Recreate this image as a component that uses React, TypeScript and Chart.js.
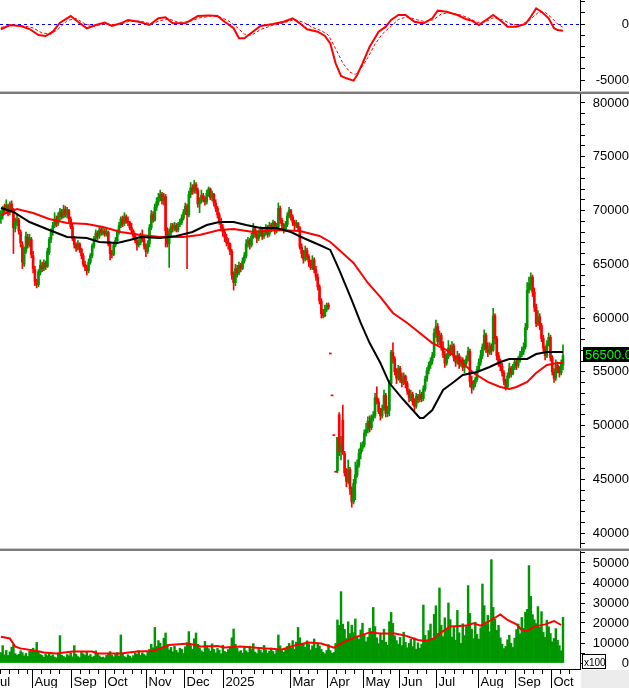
import React, { useEffect, useRef } from 'react';
import { Chart, registerables } from 'chart.js';

Chart.register(...registerables);

const FONT = "'Liberation Sans', Arial, sans-serif";
const GREEN = '#009600';
const RED = '#ff0000';
const X_MIN = -0.5;
const X_MAX = 323.5;
const AXIS_W = 49;

// ---- price candles (VND) ----
const opens = [
  69200, 69500, 70300, 70000, 70400, 69900, 70600, 70000, 68300, 68900,
  69100, 68000, 66800, 65000, 66200, 67500, 66800, 67300, 65800, 64500,
  63300, 63100, 64200, 64900, 64600, 65100, 64800, 66100, 67300, 68000,
  68600, 69200, 68800, 69400, 69900, 69400, 70100, 69600, 70000, 69200,
  68500, 67400, 66800, 66500, 66900, 66400, 65800, 65000, 64700, 64400,
  65200, 65800, 66700, 67400, 67900, 67600, 68200, 67900, 68100, 67800,
  68000, 66900, 66000, 65900, 66800, 67200, 68000, 68600, 69200, 68800,
  69400, 69000, 68900, 68400, 68100, 67600, 67200, 66800, 67000, 67600,
  67300, 66700, 66200, 66900, 68400, 69600, 69100, 70300, 70800, 71200,
  71500, 70900, 71300, 68100, 66900, 67900, 68500, 68300, 68600, 68200,
  68700, 68900, 69300, 69800, 70400, 69600, 71500, 72100, 71800, 72400,
  71900, 70600, 70900, 71400, 71100, 70800, 71600, 72000, 71200, 71500,
  70700, 70200, 69600, 69000, 68400, 68000, 67500, 67000, 66900, 66200,
  64000, 63300, 64600, 64200, 64900, 64600, 65300, 65800, 66900, 67200,
  66800, 67600, 68300, 67800, 67400, 67900, 68200, 67600, 67900, 68400,
  67800, 68600, 68300, 68900, 68100, 68500, 70200, 69100, 68600, 68300,
  68700, 69500, 70000, 69400, 68900, 68600, 68800, 68400, 66600, 66000,
  65500, 66300, 65700, 65200, 64700, 65400, 64500, 63800, 62900, 61600,
  60400, 60200, 60800, 61200, 56700, 52800, 49100, 45700, 45800, 51000,
  47600, 50500, 47400, 45600, 44800, 45900, 44100, 42900, 44600, 45400,
  46300, 47400, 47900, 48200, 49300, 49600, 50400, 49800, 50700, 50900,
  52600, 52200, 51300, 50900, 51600, 52800, 51100, 51400, 53900, 56800,
  56200, 55000, 54400, 55300, 54300, 54000, 54600, 53900, 53200, 52600,
  52900, 52200, 51800, 52700, 52400, 52900, 52500, 53400, 54300, 55100,
  55600, 56000, 56500, 58600, 59200, 57800, 58400, 57300, 56600, 55800,
  56400, 57200, 56800, 57400, 56300, 55900, 56500, 55700, 56100, 55400,
  55800, 56200, 56900, 54100, 53500, 53900, 54300, 55200, 55900, 56500,
  57300, 58400, 57100, 56800, 57400, 57000, 60200, 58100, 56500, 55900,
  55500, 54900, 54100, 53600, 54600, 55300, 54800, 55400, 55900, 55600,
  56100, 56600, 56900, 57300, 59100, 62600, 63200, 63800, 62400, 61000,
  59500, 60100, 59300, 58100, 57200, 56500, 57600, 58200, 56300, 55000,
  54400, 55600, 55300, 54900, 55600,
];

const highs = [
  70000, 70400, 70600, 71000, 70600, 70800, 70900, 70200, 69300, 69600,
  69300, 68200, 67100, 66600, 68000, 67800, 67800, 67500, 66200, 64800,
  63600, 64500, 65400, 65200, 65400, 65300, 66500, 67500, 68300, 68900,
  69800, 69500, 69800, 70200, 70100, 70500, 70400, 70300, 70100, 69400,
  68800, 67600, 67000, 67200, 67000, 66500, 66000, 65300, 64900, 65500,
  66000, 66900, 67600, 68200, 68100, 68500, 68400, 68400, 68300, 68300,
  68100, 67100, 66300, 67000, 67500, 68200, 68900, 69400, 69500, 69800,
  69600, 69400, 69000, 68800, 68200, 67900, 67400, 67300, 67900, 68200,
  67500, 66900, 67200, 68700, 70000, 69900, 70600, 71200, 71600, 71900,
  71700, 71600, 71500, 68400, 68300, 68800, 68800, 68900, 68800, 68900,
  69200, 69600, 70100, 70700, 70600, 71800, 72600, 72400, 72800, 72600,
  72100, 71200, 71900, 71600, 71300, 71900, 72200, 72100, 71800, 71600,
  71000, 70400, 69800, 69300, 68700, 68200, 67800, 67400, 67000, 66400,
  64300, 65000, 64900, 65200, 65100, 65600, 66100, 67300, 67500, 67400,
  67900, 68800, 68500, 68100, 68200, 68500, 68300, 68200, 68700, 68600,
  68900, 68800, 69100, 69000, 68800, 70700, 70400, 69300, 68800, 69000,
  69800, 70300, 70100, 69600, 69100, 69100, 68900, 68500, 66900, 66300,
  66700, 66500, 65900, 65400, 65800, 65600, 64800, 64100, 63100, 61800,
  60800, 61200, 61400, 61400, 56700, 52800, 49100, 45700, 48900, 51200,
  49000, 51900, 47600, 46000, 46800, 46100, 44300, 45000, 46600, 46800,
  47800, 48400, 48500, 49600, 50200, 50800, 50900, 51000, 51300, 53000,
  53600, 52500, 51600, 51900, 53300, 53000, 51800, 54200, 57000, 57700,
  56400, 55300, 55600, 55500, 54900, 54900, 54700, 54100, 53400, 53300,
  53100, 52500, 53000, 52900, 53300, 53100, 53700, 54600, 55400, 55900,
  56300, 56800, 59000, 59800, 59500, 58800, 58600, 57800, 56900, 56700,
  57900, 57500, 57800, 57600, 56500, 56900, 56700, 56400, 56300, 56100,
  56500, 57300, 57100, 54600, 54200, 54500, 55500, 56200, 57000, 57600,
  58900, 58600, 57700, 57700, 57600, 60900, 60400, 58300, 56800, 56200,
  55800, 55100, 54300, 54900, 55800, 55500, 55700, 56200, 56100, 56400,
  56900, 57300, 57700, 59500, 63300, 63800, 64200, 64000, 62800, 61300,
  60700, 60400, 59500, 58400, 57400, 57900, 58600, 58400, 56500, 55300,
  56100, 55900, 55500, 56100, 57500,
];

const lows = [
  68800, 69200, 69700, 69800, 69500, 69600, 69900, 66000, 68000, 68600,
  67800, 66600, 64600, 64800, 66000, 66500, 66600, 65600, 64200, 63000,
  62800, 62900, 64000, 64300, 64400, 64500, 64700, 65900, 67000, 67700,
  68400, 68500, 68600, 69100, 69200, 69300, 69400, 69300, 68900, 68300,
  67200, 66500, 66200, 66300, 66100, 65500, 64800, 64400, 64000, 64200,
  65000, 65600, 66500, 67200, 67300, 67400, 67700, 67700, 67600, 67600,
  66700, 65400, 65600, 65800, 66600, 67000, 67800, 68400, 68500, 68600,
  68800, 68600, 68200, 67900, 67400, 67000, 66300, 66600, 66800, 67100,
  66400, 65700, 66000, 66600, 68200, 68900, 69000, 70000, 70500, 70900,
  70600, 70500, 66600, 66600, 64700, 67600, 68000, 68100, 68000, 68000,
  68500, 68700, 69100, 69600, 64600, 69400, 71200, 71500, 71600, 71600,
  70300, 69800, 70700, 70800, 70500, 70600, 71300, 71000, 70900, 70400,
  69900, 69300, 68700, 68100, 67600, 67100, 66700, 66400, 65900, 63600,
  62600, 63000, 63800, 64000, 64300, 64500, 65100, 65600, 66600, 66400,
  66600, 67400, 67500, 67000, 67200, 67600, 67300, 67400, 67700, 67500,
  67600, 68000, 68100, 67800, 67900, 68300, 68800, 68300, 67900, 68100,
  68500, 69300, 69100, 68600, 68200, 68400, 68100, 66400, 65600, 65100,
  65300, 65400, 64800, 64500, 64500, 64200, 63500, 62600, 61300, 60000,
  60000, 60100, 60600, 60800, 56700, 52800, 49100, 45700, 45600, 47200,
  46800, 47300, 45300, 44300, 44600, 43600, 42400, 42700, 43100, 45200,
  46100, 46900, 47600, 48000, 49000, 49300, 49400, 49600, 50400, 50700,
  52000, 51100, 50500, 50700, 51400, 50800, 50800, 50900, 53700, 55800,
  54700, 53900, 54200, 54000, 53600, 53800, 53500, 52900, 52200, 52300,
  51900, 51400, 51600, 52100, 52200, 52200, 52300, 53200, 54100, 54800,
  55300, 55700, 56300, 58200, 57500, 57500, 57000, 56300, 55400, 55600,
  56200, 56500, 56600, 56000, 55500, 55700, 55300, 55500, 55100, 54900,
  55600, 56000, 53600, 53000, 53300, 53600, 54100, 55000, 55600, 56200,
  57000, 56800, 56400, 56600, 56600, 56900, 57600, 56100, 55500, 55100,
  54600, 53800, 53300, 53500, 54400, 54500, 54700, 55200, 55200, 55400,
  55900, 56400, 56600, 57100, 58900, 62300, 62600, 62000, 60600, 59200,
  59300, 58900, 57800, 56900, 56100, 56300, 57400, 56000, 54700, 54000,
  54200, 54900, 54500, 54700, 55200,
];

const closes = [
  69600, 70200, 70000, 70500, 69800, 70600, 70100, 68400, 68900, 69200,
  68100, 67000, 65200, 66300, 67600, 66800, 67400, 65900, 64600, 63400,
  63100, 64300, 64900, 64600, 65100, 64800, 66200, 67300, 68000, 68600,
  69200, 68800, 69500, 69900, 69400, 70100, 69600, 70000, 69200, 68500,
  67400, 66800, 66500, 66900, 66400, 65800, 65000, 64700, 64400, 65200,
  65800, 66700, 67400, 67900, 67600, 68200, 67900, 68100, 67800, 68000,
  66900, 66000, 65900, 66800, 67200, 68000, 68600, 69200, 68800, 69400,
  69000, 68900, 68400, 68100, 67600, 67200, 66800, 67000, 67600, 67300,
  66700, 66200, 66900, 68400, 69600, 69100, 70300, 70800, 71200, 71500,
  70900, 71300, 68100, 66900, 67900, 68500, 68300, 68600, 68200, 68700,
  68900, 69300, 69800, 70400, 69600, 71500, 72100, 71800, 72400, 71900,
  70600, 70900, 71400, 71100, 70800, 71600, 72000, 71200, 71500, 70700,
  70200, 69600, 69000, 68400, 68000, 67500, 67000, 66900, 66200, 64000,
  63300, 64600, 64200, 64900, 64600, 65300, 65800, 66900, 67200, 66800,
  67600, 68300, 67800, 67400, 67900, 68200, 67600, 67900, 68400, 67800,
  68600, 68300, 68900, 68100, 68500, 70200, 69100, 68600, 68300, 68700,
  69500, 70000, 69400, 68900, 68600, 68800, 68400, 66600, 66000, 65500,
  66300, 65700, 65200, 64700, 65400, 64500, 63800, 62900, 61600, 60400,
  60200, 60800, 61200, 61000, 56700, 52800, 49100, 45700, 48900, 47600,
  48200, 47500, 45600, 44800, 45900, 44100, 42900, 44600, 45400, 46300,
  47400, 47900, 48200, 49300, 49600, 50400, 49800, 50700, 50900, 52600,
  52200, 51300, 50900, 51600, 52800, 51100, 51400, 53900, 56800, 56200,
  55000, 54400, 55300, 54300, 54000, 54600, 53900, 53200, 52600, 52900,
  52200, 51800, 52700, 52400, 52900, 52500, 53400, 54300, 55100, 55600,
  56000, 56500, 58600, 59200, 57800, 58400, 57300, 56600, 55800, 56400,
  57200, 56800, 57400, 56300, 55900, 56500, 55700, 56100, 55400, 55800,
  56200, 56900, 54100, 53500, 53900, 54300, 55200, 55900, 56500, 57300,
  58400, 57100, 56800, 57400, 57000, 60200, 58100, 56500, 55900, 55500,
  54900, 54100, 53600, 54600, 55300, 54800, 55400, 55900, 55600, 56100,
  56600, 56900, 57300, 59100, 62600, 63200, 63800, 62400, 61000, 59500,
  60100, 59300, 58100, 57200, 56500, 57600, 58200, 56300, 55000, 54400,
  55600, 55300, 54900, 55800, 56500,
];

// ---- volume (x100 shares) ----
const volumes = [
  5200, 8700, 4100, 6300, 3800, 5600, 7900, 9200, 4700, 3900,
  4400, 6100, 5200, 3600, 4800, 3300, 5900, 6800, 7400, 6200,
  10300, 5700, 4300, 3800, 2900, 4600, 3700, 5200, 3400, 4100,
  3000, 2600, 4800, 13700, 3900, 3300, 2800, 4200, 3600, 5100,
  3100, 8700, 4400, 3200, 2700, 5300, 4600, 3900, 5800, 3500,
  4200, 2900, 3300, 6100, 4700, 3600, 2800, 3000, 2500, 3800,
  4900, 5700, 3900, 3100, 4300, 5200, 3500, 14000, 4600, 3200,
  2800, 4100, 3400, 2600, 3700, 5000, 4400, 6200, 3800, 5100,
  4300, 3600, 5400, 6800, 9400, 7600, 17800, 8300, 11200, 9900,
  7100, 12400, 15000, 9200, 6500, 7800, 5600, 8400, 6300, 5200,
  7400, 6900, 4800, 8100, 10200, 15700, 8800, 6900, 12100, 15000,
  9300, 7700, 6100, 5400, 10800, 8600, 7200, 5900, 9600, 6800,
  5100, 7300, 6400, 4600, 8900, 5800, 5300, 6700, 8200, 12600,
  17000, 9400, 7300, 5600, 6200, 4900, 7800, 6100, 5200, 8400,
  6900, 9700, 5500, 4700, 7200, 6300, 5100, 8800, 6600, 4900,
  6000, 7500, 5800, 4500, 6800, 14000, 8600, 6200, 5400, 7100,
  8300, 9800, 7400, 11200, 6900, 10400, 17800, 12600, 8900, 9600,
  7800, 11100, 9300, 6500, 8600, 12000, 7300, 9900, 8500, 6800,
  5400, 4600, 6300, 9200, 6200, 4800, 5300, 9800, 21500, 18800,
  35700, 19400, 16800, 12300, 20600, 14700, 18900, 15200, 22000, 13400,
  11800, 16500, 19900, 14200, 10600, 12900, 17400, 15800, 27800, 18200,
  12600, 9700, 14800, 11300, 16900, 10400, 8900, 20700, 25300, 19800,
  13600, 11200, 9400, 12800, 8700, 15400, 10300, 7600, 9800, 11900,
  8200, 12500, 6900, 10100, 7400, 9300, 29000, 13800, 10700, 16200,
  19500, 12100, 24300, 28600, 14800, 37500, 18900, 13200, 22600, 16400,
  30000, 21700, 12900, 17800, 11400, 26300, 15100, 9800, 19600, 13700,
  18200, 38700, 24800, 16900, 12200, 20400, 14300, 11900, 17600, 39500,
  28700, 19300, 23800, 15600, 51700, 27800, 21900, 16300, 18800, 12600,
  9400, 7200, 8300, 11600, 13900, 9900, 7800, 12400, 16700, 19500,
  14600, 22800, 17400, 25400, 26800, 48700, 33300, 24200, 21600, 19700,
  28200, 17900, 25700, 15300, 12800, 21400, 18100, 14700, 10600, 12300,
  17200, 11400, 8700, 6100, 22800,
];

// ---- moving averages on price (bar index -> value) ----
const maBlackIdx = [0, 7, 16, 27, 37, 48, 55, 65, 72, 78, 89, 98, 107, 115, 122, 130, 137, 145, 154, 162, 169, 178, 184, 189, 196, 201, 206, 212, 217, 225, 230, 234, 236, 241, 247, 253, 258, 266, 273, 279, 284, 294, 299, 305, 314];
const maBlackVal = [70230, 69860, 68930, 68190, 67540, 67440, 67070, 66980, 67260, 67540, 67440, 67630, 68000, 68650, 68930, 68930, 68650, 68370, 68370, 68000, 67440, 66790, 66330, 64470, 61670, 59540, 57670, 55810, 53950, 52370, 51440, 50700, 50700, 51440, 53300, 54050, 54700, 54980, 55440, 55910, 56190, 56190, 56650, 56840, 56840];
const maRedIdx = [0, 9, 18, 27, 37, 48, 57, 67, 78, 89, 102, 111, 122, 130, 141, 154, 167, 178, 184, 189, 197, 205, 212, 219, 227, 234, 241, 249, 256, 264, 272, 279, 284, 288, 294, 299, 305, 311, 314];
const maRedVal = [69580, 70140, 69770, 69210, 68840, 68740, 68470, 68000, 67720, 67540, 67540, 67720, 68190, 68280, 68000, 68190, 68090, 67630, 67070, 66330, 65120, 63260, 61950, 60470, 59540, 58600, 57670, 57020, 56090, 54880, 54050, 53580, 53400, 53580, 54050, 54880, 55630, 55810, 55810];

// ---- MACD ----
const macdIdx = [0, 5, 11, 16, 21, 25, 29, 33, 39, 43, 48, 53, 58, 62, 67, 71, 77, 83, 88, 92, 96, 103, 110, 116, 121, 125, 130, 133, 136, 140, 145, 152, 158, 163, 167, 171, 177, 181, 184, 187, 190, 193, 197, 199, 202, 206, 211, 215, 218, 222, 226, 231, 236, 241, 244, 249, 255, 260, 263, 267, 271, 275, 280, 283, 288, 293, 296, 299, 302, 306, 309, 311, 314];
const macdVal = [-470, -90, -180, -450, -980, -1070, -690, 120, 710, 200, -380, -90, 120, -180, 60, 360, 200, -90, 510, 600, 60, 60, 710, 770, 710, 200, -380, -1280, -1280, -780, -180, 0, 200, 510, 60, -470, -690, -1070, -1730, -3510, -4640, -4850, -5060, -4550, -3510, -2030, -690, -240, 360, 800, 800, 200, 60, 510, 1190, 1100, 800, 420, 300, -90, 360, 800, 200, -240, -240, 0, 650, 1400, 1100, 510, -380, -540, -600];
const signalIdx = [0, 6, 12, 18, 23, 28, 32, 37, 42, 47, 52, 57, 62, 67, 72, 78, 84, 89, 94, 99, 105, 111, 117, 122, 127, 132, 136, 140, 145, 152, 158, 164, 169, 174, 179, 183, 187, 191, 195, 198, 201, 205, 209, 213, 218, 222, 227, 232, 237, 242, 246, 250, 256, 261, 266, 270, 275, 280, 285, 290, 295, 300, 304, 308, 311, 314];
const signalVal = [-300, -150, -150, -350, -800, -900, -450, 300, 500, 0, -200, 0, -50, 0, 250, 250, 0, 300, 450, 150, 200, 550, 700, 650, 300, -300, -900, -1000, -500, -100, 100, 400, 150, -300, -600, -1000, -2200, -3500, -4300, -4500, -4000, -3000, -1800, -900, -200, 400, 650, 400, 200, 400, 900, 1000, 850, 550, 150, 150, 550, 400, 0, -100, 300, 1000, 1050, 500, 0, -300];

// ---- volume moving average ----
const volMaIdx = [0, 5, 8, 11, 20, 24, 31, 40, 51, 54, 67, 76, 85, 94, 105, 112, 121, 125, 134, 148, 157, 165, 172, 179, 186, 192, 199, 206, 212, 220, 226, 233, 237, 242, 246, 251, 260, 264, 268, 273, 279, 283, 288, 291, 294, 298, 304, 309, 313];
const volMaVal = [13150, 12300, 8200, 7300, 6000, 5300, 4800, 5700, 5700, 4800, 4800, 5700, 6000, 9000, 9700, 8200, 8500, 7700, 8200, 7300, 6800, 9000, 10300, 9700, 7700, 10700, 13200, 15300, 14800, 14800, 13700, 11500, 11000, 12300, 15300, 18200, 18700, 19800, 18700, 21000, 24300, 21500, 19300, 16500, 16000, 18200, 19300, 21000, 19000];

// ---- time axis ----
const monthIdx = [-6, 17, 39, 58, 81, 102, 124, 141, 161, 182, 202, 222, 243, 266, 287, 307];
const monthNames = ['Jul', 'Aug', 'Sep', 'Oct', 'Nov', 'Dec', '2025', '', 'Mar', 'Apr', 'May', 'Jun', 'Jul', 'Aug', 'Sep', 'Oct'];

const pts = (idx: number[], val: number[]) => idx.map((x, k) => ({ x, y: val[k] }));

function range(from: number, to: number, step: number) {
  const out: number[] = [];
  for (let v = from; v <= to; v += step) out.push(v);
  return out;
}

function yAxis(min: number, max: number, tickVals: number[], labelStep: number, padding: number) {
  return {
    type: 'linear',
    position: 'right',
    min,
    max,
    beginAtZero: false,
    afterBuildTicks: (s: any) => {
      s.ticks = tickVals.map((v) => ({ value: v }));
    },
    afterFit: (s: any) => {
      s.width = AXIS_W;
      s.paddingTop = 0;
      s.paddingBottom = 0;
    },
    ticks: {
      autoSkip: false,
      callback: (v: any) => (Math.round(v) % labelStep === 0 ? String(v) : ''),
      font: { family: FONT, size: 13 },
      color: '#000',
      padding,
      crossAlign: 'far',
    },
    grid: { drawOnChartArea: false, drawTicks: true, tickLength: 5, color: '#000', lineWidth: 1 },
    border: { display: true, color: '#000', width: 1 },
  };
}

const xAxis = {
  type: 'linear',
  min: X_MIN,
  max: X_MAX,
  display: false,
  offset: false,
  grid: { display: false },
};

const baseOptions = {
  responsive: false,
  maintainAspectRatio: false,
  animation: false,
  devicePixelRatio: 1,
  events: [],
  layout: { padding: 0 },
  plugins: { legend: { display: false }, tooltip: { enabled: false } },
};

export default function App() {
  const macdRef = useRef<HTMLCanvasElement>(null);
  const priceRef = useRef<HTMLCanvasElement>(null);
  const volRef = useRef<HTMLCanvasElement>(null);

  useEffect(() => {
    Chart.defaults.font.family = FONT;
    const charts: any[] = [];

    // ---------- MACD ----------
    const zeroLine = {
      id: 'zeroLine',
      beforeDatasetsDraw(chart: any) {
        const { ctx, chartArea, scales } = chart;
        const y = Math.round(scales.y.getPixelForValue(0)) + 0.5;
        ctx.save();
        ctx.strokeStyle = '#0000ff';
        ctx.lineWidth = 1;
        ctx.setLineDash([3, 3]);
        ctx.beginPath();
        ctx.moveTo(chartArea.left, y);
        ctx.lineTo(chartArea.right, y);
        ctx.stroke();
        ctx.restore();
      },
    };
    charts.push(
      new Chart(macdRef.current as HTMLCanvasElement, {
        type: 'line',
        data: {
          datasets: [
            {
              data: pts(macdIdx, macdVal),
              borderColor: RED,
              borderWidth: 2,
              pointRadius: 0,
              order: 0,
            },
            {
              data: pts(signalIdx, signalVal),
              borderColor: RED,
              borderWidth: 1,
              borderDash: [3, 2],
              pointRadius: 0,
              order: 1,
            },
          ],
        },
        options: {
          ...baseOptions,
          scales: {
            x: xAxis,
            y: yAxis(-5982, 2143, range(-5000, 2000, 1000), 5000, 9),
          },
        } as any,
        plugins: [zeroLine],
      } as any)
    );

    // ---------- price ----------
    const up = closes.map((c, i) => c > opens[i] || (c === opens[i] && (i === 0 || c >= closes[i - 1])));
    const colors = up.map((u) => (u ? GREEN : RED));
    const wickData = closes.map((_, i) => ({ x: i, y: [lows[i], highs[i]] }));
    const bodyData = closes.map((c, i) => {
      const lo = Math.min(opens[i], c);
      const hi = Math.max(opens[i], c);
      return { x: i, y: hi - lo < 100 ? [lo - 50, hi + 50] : [lo, hi] };
    });
    const lastPrice = closes[closes.length - 1];
    const lastLabel = {
      id: 'lastLabel',
      afterDraw(chart: any) {
        const { ctx, scales } = chart;
        const y = scales.y.getPixelForValue(lastPrice) - 2;
        ctx.save();
        ctx.fillStyle = '#000';
        ctx.fillRect(583, Math.round(y) - 7, 46, 15);
        ctx.fillStyle = '#00ff00';
        ctx.font = `13px ${FONT}`;
        ctx.textBaseline = 'middle';
        ctx.textAlign = 'left';
        ctx.fillText(lastPrice.toFixed(2), 585, Math.round(y) + 1);
        ctx.restore();
      },
    };
    charts.push(
      new Chart(priceRef.current as HTMLCanvasElement, {
        type: 'bar',
        data: {
          datasets: [
            {
              type: 'line',
              data: pts(maBlackIdx, maBlackVal),
              borderColor: '#000',
              borderWidth: 2,
              pointRadius: 0,
              order: 0,
            },
            {
              type: 'line',
              data: pts(maRedIdx, maRedVal),
              borderColor: RED,
              borderWidth: 2,
              pointRadius: 0,
              order: 1,
            },
            {
              type: 'bar',
              data: bodyData,
              backgroundColor: colors,
              barThickness: 2,
              grouped: false,
              order: 2,
            },
            {
              type: 'bar',
              data: wickData,
              backgroundColor: colors,
              barThickness: 1,
              grouped: false,
              order: 3,
            },
          ],
        },
        options: {
          ...baseOptions,
          scales: {
            x: xAxis,
            y: yAxis(38606, 80837, range(39000, 80000, 1000), 5000, 7),
          },
        } as any,
        plugins: [lastLabel],
      } as any)
    );

    // ---------- volume + time axis ----------
    const timeAxis = {
      id: 'timeAxis',
      afterDraw(chart: any) {
        const { ctx, chartArea, scales } = chart;
        const xs = scales.x;
        const yb = chartArea.bottom;
        const H = chart.height;
        ctx.save();
        ctx.fillStyle = '#ececec';
        ctx.fillRect(chartArea.right + 1, yb + 1, chart.width - chartArea.right, H - yb);
        ctx.strokeStyle = '#000';
        ctx.lineWidth = 1;
        ctx.beginPath();
        ctx.moveTo(0, yb + 0.5);
        ctx.lineTo(chartArea.right + 1, yb + 0.5);
        ctx.stroke();
        ctx.font = `13px ${FONT}`;
        ctx.fillStyle = '#000';
        ctx.textAlign = 'left';
        ctx.textBaseline = 'alphabetic';
        for (let k = 0; k < monthIdx.length; k++) {
          const start = monthIdx[k];
          const end = k + 1 < monthIdx.length ? monthIdx[k + 1] : 324;
          const px = Math.round(xs.getPixelForValue(start) + 0.6) + 0.5;
          const name = monthNames[k];
          ctx.beginPath();
          ctx.moveTo(px, yb);
          ctx.lineTo(px, name ? H : yb + 5);
          ctx.stroke();
          if (name) ctx.fillText(name, px + 2, H - 2);
          for (let j = start + 5; j < end - 2; j += 5) {
            const wx = Math.round(xs.getPixelForValue(j) + 0.6) + 0.5;
            if (wx > chartArea.right) break;
            ctx.beginPath();
            ctx.moveTo(wx, yb);
            ctx.lineTo(wx, yb + 5);
            ctx.stroke();
          }
        }
        // x100 box
        ctx.fillStyle = '#fff';
        ctx.fillRect(582.5, yb - 14.5, 23, 14);
        ctx.strokeRect(582.5, yb - 14.5, 23, 14);
        ctx.fillStyle = '#000';
        ctx.font = `10px ${FONT}`;
        ctx.fillText('x100', 584, yb - 3);
        ctx.restore();
      },
    };
    charts.push(
      new Chart(volRef.current as HTMLCanvasElement, {
        type: 'bar',
        data: {
          datasets: [
            {
              type: 'line',
              data: pts(volMaIdx, volMaVal),
              borderColor: RED,
              borderWidth: 2,
              pointRadius: 0,
              order: 0,
            },
            {
              type: 'bar',
              data: volumes.map((v, i) => ({ x: i, y: v })),
              backgroundColor: GREEN,
              barThickness: 1.8,
              grouped: false,
              order: 1,
            },
          ],
        },
        options: {
          ...baseOptions,
          layout: { padding: { bottom: 19 } },
          scales: {
            x: xAxis,
            y: yAxis(-3000, 56000, range(0, 55000, 5000), 10000, 7),
          },
        } as any,
        plugins: [timeAxis],
      } as any)
    );

    return () => charts.forEach((c) => c.destroy());
  }, []);

  return (
    <div style={{ position: 'absolute', left: 0, top: 0, width: 629, height: 688, background: '#fff', overflow: 'hidden' }}>
      <canvas ref={macdRef} width={629} height={91} style={{ position: 'absolute', left: 0, top: 0 }} />
      <div style={{ position: 'absolute', left: 0, top: 91, width: 629, height: 1, background: '#c8c8c8' }} />
      <div style={{ position: 'absolute', left: 0, top: 92, width: 629, height: 2, background: '#7a7a7a' }} />
      <canvas ref={priceRef} width={629} height={454} style={{ position: 'absolute', left: 0, top: 94 }} />
      <div style={{ position: 'absolute', left: 0, top: 548, width: 629, height: 1, background: '#c8c8c8' }} />
      <div style={{ position: 'absolute', left: 0, top: 549, width: 629, height: 2, background: '#7a7a7a' }} />
      <canvas ref={volRef} width={629} height={137} style={{ position: 'absolute', left: 0, top: 551 }} />
    </div>
  );
}
